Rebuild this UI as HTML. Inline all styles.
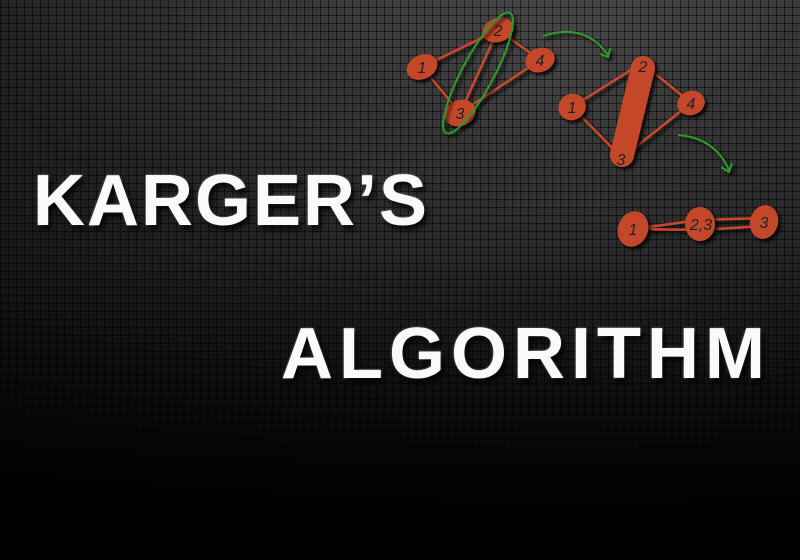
<!DOCTYPE html>
<html><head><style>
body{margin:0;width:800px;height:560px;overflow:hidden;background:#000}
#bg{position:absolute;left:0;top:0;width:800px;height:560px;
background:
linear-gradient(to bottom,rgba(0,0,0,0) 0%,rgba(0,0,0,0.3) 45%,rgba(0,0,0,0.92) 85%,#000 100%),
repeating-linear-gradient(90deg,rgba(0,0,0,0.5) 0 1px,transparent 1px 8px),
repeating-linear-gradient(0deg,rgba(0,0,0,0.5) 0 1px,transparent 1px 8px),
radial-gradient(ellipse at 70% 10%,#4a4a4a,#2a2a2a 60%,#151515)}
.t{position:absolute;font-family:"Liberation Sans",sans-serif;font-weight:bold;color:#fafafa;font-size:72px;letter-spacing:1px;
text-shadow:3px 4px 6px rgba(0,0,0,0.9),0 0 2px #999;}
</style></head><body>
<div id="bg"></div>
<div class="t" style="left:33px;top:160px;letter-spacing:2px">KARGER’S</div>
<div class="t" style="left:281px;top:313px;letter-spacing:6px">ALGORITHM</div>
<svg width="800" height="560" style="position:absolute;left:0;top:0">
<defs><filter id="s"><feDropShadow dx="3" dy="3" stdDeviation="1.5" flood-color="#000" flood-opacity="0.8"/></filter></defs>
<g filter="url(#s)" stroke="#c8462a" stroke-width="2.5" fill="none">
<line x1="422" y1="67" x2="498" y2="30"/><line x1="422" y1="67" x2="460" y2="113"/>
<line x1="498" y1="30" x2="460" y2="113"/><line x1="498" y1="30" x2="540" y2="60"/><line x1="460" y1="113" x2="540" y2="60"/>
<line x1="572" y1="107" x2="642" y2="63"/><line x1="572" y1="107" x2="622" y2="158"/>
<line x1="642" y1="63" x2="691" y2="103"/><line x1="622" y1="158" x2="691" y2="103"/>
<line x1="633" y1="229" x2="700" y2="220"/><line x1="633" y1="229" x2="700" y2="230"/>
<line x1="700" y1="220" x2="764" y2="218"/><line x1="700" y1="230" x2="764" y2="226"/>
</g>
<g filter="url(#s)" fill="#c5472b">
<ellipse cx="422" cy="67" rx="16" ry="12" transform="rotate(-25 422 67)"/><ellipse cx="498" cy="30" rx="16" ry="12" transform="rotate(-20 498 30)"/>
<ellipse cx="540" cy="60" rx="15" ry="12" transform="rotate(-20 540 60)"/><ellipse cx="460" cy="113" rx="16" ry="13" transform="rotate(-20 460 113)"/>
<ellipse cx="572" cy="107" rx="14" ry="13" transform="rotate(-30 572 107)"/><ellipse cx="691" cy="103" rx="14" ry="12" transform="rotate(-20 691 103)"/>
<line x1="643" y1="68" x2="622" y2="155" stroke="#c5472b" stroke-width="24" stroke-linecap="round"/>
<ellipse cx="633" cy="229" rx="15" ry="18" transform="rotate(20 633 229)"/><ellipse cx="700" cy="224" rx="15" ry="17"/><ellipse cx="764" cy="222" rx="14" ry="17" transform="rotate(15 764 222)"/>
</g>
<g font-family="Liberation Sans,sans-serif" font-style="italic" font-size="16" fill="#222" text-anchor="middle">
<text x="422" y="73">1</text><text x="498" y="36">2</text><text x="540" y="66">4</text><text x="460" y="119">3</text>
<text x="572" y="113">1</text><text x="643" y="72">2</text><text x="691" y="109">4</text><text x="621" y="165">3</text>
<text x="633" y="235">1</text><text x="701" y="230">2,3</text><text x="764" y="228">3</text>
</g>
<g filter="url(#s)" stroke="#2a9a2a" stroke-width="2" fill="none">
<ellipse cx="478" cy="73" rx="16" ry="68" transform="rotate(28 478 73)"/>
<path d="M543 36 Q585 22 608 55"/><path d="M600 54 L608 57 L610 48"/>
<path d="M678 135 Q715 138 729 170"/><path d="M721 167 L729 172 L732 163"/>
</g>
</svg>
</body></html>
